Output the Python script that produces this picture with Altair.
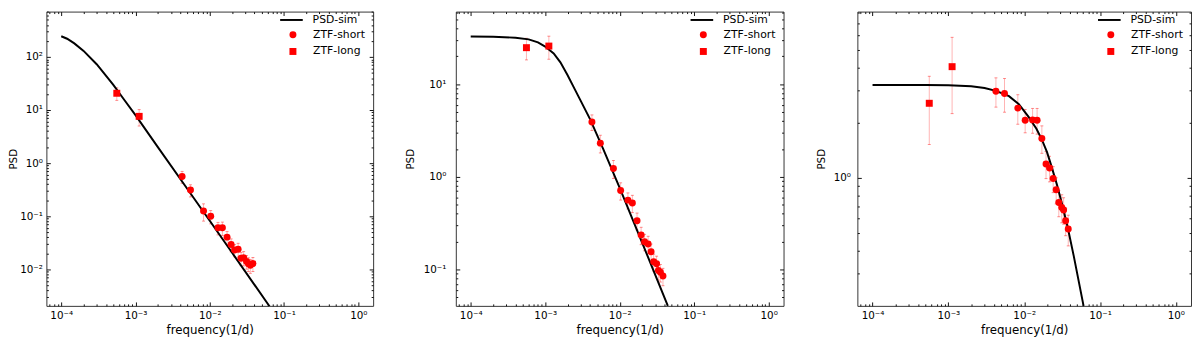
import altair as alt
import pandas as pd

FONT = "DejaVu Sans"

# ---------------- data ----------------
f_short = [4.24e-3, 5.50e-3, 8.24e-3, 1.03e-2, 1.29e-2, 1.48e-2, 1.71e-2, 1.94e-2,
           2.16e-2, 2.41e-2, 2.64e-2, 2.86e-2, 3.13e-2, 3.31e-2, 3.52e-2, 3.81e-2]
f_long = [5.6e-4, 1.12e-3]

# panel 1
p1_short = [0.558, 0.311, 0.126, 0.0998, 0.0605, 0.0605, 0.0404, 0.0294,
            0.0232, 0.0239, 0.0162, 0.0166, 0.0141, 0.0128, 0.0119, 0.0129]
p1_short_err = [0.14, 0.08, 0.045, 0.028, 0.016, 0.017, 0.011, 0.008,
                0.006, 0.007, 0.0045, 0.005, 0.004, 0.0037, 0.0035, 0.0038]
p1_long = [20.7, 7.6]
p1_long_err = [5.5, 2.6]
p1_curve_f = [1e-4, 1.2e-4, 1.5e-4, 2e-4, 3e-4, 5e-4, 7e-4, 1e-3, 2e-3, 5e-3, 1e-2, 2e-2, 6.4e-2]
p1_curve_p = [245, 220, 180, 130, 73, 30, 15.8, 8.0, 2.0, 0.325, 0.082, 0.0205, 0.0020]

# panel 2
p2_short = [3.91, 2.31, 1.23, 0.711, 0.560, 0.521, 0.336, 0.235,
            0.199, 0.188, 0.155, 0.121, 0.115, 0.0977, 0.0931, 0.0847]
p2_short_err = [0.75, 0.5, 0.27, 0.15, 0.11, 0.11, 0.07, 0.05,
                0.04, 0.04, 0.033, 0.025, 0.024, 0.021, 0.02, 0.018]
p2_long = [24.8, 25.8]
p2_long_err = [6.5, 7.2]
p2_curve_f = [1e-4, 2e-4, 4e-4, 6e-4, 8e-4, 1e-3, 1.3e-3, 1.6e-3, 2e-3, 2.5e-3, 3e-3,
              4e-3, 6e-3, 1e-2, 2e-2, 4.43e-2]
p2_curve_p = [32.7, 32.5, 31.8, 30.5, 28.3, 25.5, 21.5, 17.2, 12.5, 8.8, 6.6,
              4.2, 2.0, 0.76, 0.195, 0.0404]

# panel 3
p3_short = [2.97, 2.88, 2.40, 2.06, 2.07, 2.06, 1.64, 1.19,
            1.13, 0.99, 0.86, 0.733, 0.688, 0.668, 0.583, 0.525]
p3_short_err = [0.54, 0.60, 0.44, 0.30, 0.32, 0.33, 0.28, 0.20,
                0.18, 0.16, 0.14, 0.12, 0.12, 0.11, 0.10, 0.10]
p3_long = [2.55, 4.04]
p3_long_err = [1.03, 1.8]
p3_curve_f = [1e-4, 5e-4, 1e-3, 2e-3, 3e-3, 4.24e-3, 6.3e-3, 8.5e-3, 1.143e-2, 1.45e-2,
              1.706e-2, 2e-2, 2.297e-2, 2.7e-2, 3.1e-2, 3.77e-2, 4.5e-2, 6.07e-2]
p3_curve_p = [3.21, 3.21, 3.20, 3.16, 3.09, 2.98, 2.79, 2.52, 2.15, 1.85,
              1.62, 1.38, 1.15, 0.92, 0.74, 0.53, 0.375, 0.2]

series_names = ["PSD-sim", "ZTF-short", "ZTF-long"]
x_title = "frequency(1/d)"
y_title = "PSD"

XDOM = [10 ** -4.2, 10 ** 0.2]

# ---------------- helpers ----------------
def log_ticks(lo, hi):
    vals = []
    for e in range(-6, 4):
        for m in range(1, 10):
            v = m * 10.0 ** e
            if lo * 1.0001 < v < hi * 0.9999:
                vals.append(v)
    return vals

MAJOR_TEST = "abs(log(datum.value)/LN10 - round(log(datum.value)/LN10)) < 0.001"
LABEL_EXPR = (MAJOR_TEST + " ? '10' + replace(replace(replace(replace(replace(replace("
              "'' + round(log(datum.value)/LN10), '-', '⁻'), '0', '⁰'), '1', '¹'), '2', '²'), "
              "'3', '³'), '4', '⁴') : ''")
LABEL_SIZE = {"condition": {"test": MAJOR_TEST, "value": 10.5}, "value": 0}


def panel(curve_f, curve_p, s_p, s_e, l_p, l_e, ydom, W, H, lab_pad_y, title_pad_y):
    curve = pd.DataFrame({"f": curve_f, "p": curve_p, "series": series_names[0]})
    pts = pd.DataFrame({
        "f": f_short + f_long,
        "p": s_p + l_p,
        "lo": [p - e for p, e in zip(s_p + l_p, s_e + l_e)],
        "hi": [p + e for p, e in zip(s_p + l_p, s_e + l_e)],
        "series": [series_names[1]] * len(s_p) + [series_names[2]] * len(l_p),
    })
    caps = pd.concat([
        pts[["f", "lo"]].rename(columns={"lo": "v"}),
        pts[["f", "hi"]].rename(columns={"hi": "v"}),
    ])

    xaxis = alt.Axis(
        values=log_ticks(*XDOM), labelExpr=LABEL_EXPR, labelOverlap=False,
        labelFontSize=LABEL_SIZE,
        ticks=False, domain=False, grid=True, gridColor="#111", gridOpacity=1, gridWidth=1,
        gridDash={"condition": {"test": MAJOR_TEST, "value": [4, H - 8, 4, 3000]},
                  "value": [2, H - 4, 2, 3000]},
        labelPadding=5, labelFont=FONT, labelColor="black",
        title=x_title, titleFont=FONT, titleFontSize=12, titleFontWeight="normal",
        titleColor="black", titlePadding=4,
    )
    yaxis = alt.Axis(
        values=log_ticks(*ydom), labelExpr=LABEL_EXPR, labelOverlap=False,
        labelFontSize=LABEL_SIZE,
        ticks=False, domain=False, grid=True, gridColor="#111", gridOpacity=1, gridWidth=1,
        gridDash={"condition": {"test": MAJOR_TEST, "value": [4, W - 8, 4, 3000]},
                  "value": [2, W - 4, 2, 3000]},
        labelPadding=lab_pad_y, labelFont=FONT, labelColor="black",
        title=y_title, titleFont=FONT, titleFontSize=10.5, titleFontWeight="normal",
        titleColor="black", titlePadding=title_pad_y,
    )
    xs = alt.Scale(type="log", domain=XDOM)
    ys = alt.Scale(type="log", domain=ydom)

    bars = alt.Chart(pts).mark_rule(color="red", opacity=0.3, strokeWidth=1).encode(
        x=alt.X("f:Q", scale=xs, axis=xaxis),
        y=alt.Y("lo:Q", scale=ys, axis=yaxis),
        y2="hi:Q",
    )
    capm = alt.Chart(caps).mark_tick(color="red", opacity=0.45, orient="horizontal",
                                      size=3, thickness=1).encode(
        x=alt.X("f:Q", scale=xs, axis=xaxis),
        y=alt.Y("v:Q", scale=ys, axis=yaxis),
    )
    line = alt.Chart(curve).mark_line(strokeWidth=2, clip=True).encode(
        x=alt.X("f:Q", scale=xs, axis=xaxis),
        y=alt.Y("p:Q", scale=ys, axis=yaxis),
        color=alt.Color("series:N",
                        scale=alt.Scale(domain=[series_names[0]], range=["black"]),
                        legend=alt.Legend(orient="none", legendX=W - 90, legendY=1.5,
                                          title=None, symbolType="M-2,0L2,0", symbolSize=132,
                                          symbolStrokeWidth=2, labelOffset=14.5, padding=0,
                                          labelFont=FONT, labelFontSize=11,
                                          labelColor="black")),
    )
    points = alt.Chart(pts).mark_point(filled=True, opacity=1, color="red", size=50).encode(
        x=alt.X("f:Q", scale=xs, axis=xaxis),
        y=alt.Y("p:Q", scale=ys, axis=yaxis),
        shape=alt.Shape("series:N",
                        scale=alt.Scale(domain=series_names[1:], range=["circle", "square"]),
                        legend=alt.Legend(orient="none", legendX=W - 87, legendY=18,
                                          title=None, symbolSize=50, labelOffset=15,
                                          padding=0, rowPadding=2, labelFont=FONT,
                                          labelFontSize=11, labelColor="black")),
    )
    return alt.layer(bars, capm, line, points).properties(width=W, height=H)


H = 299
c1 = panel(p1_curve_f, p1_curve_p, p1_short, p1_short_err, p1_long, p1_long_err,
           [0.00205, 714], 332, H, 4, 1)
c2 = panel(p2_curve_f, p2_curve_p, p2_short, p2_short_err, p2_long, p2_long_err,
           [0.0404, 60.8], 333, H, 10, 8)
c3 = panel(p3_curve_f, p3_curve_p, p3_short, p3_short_err, p3_long, p3_long_err,
           [0.2, 8.07], 339, H, 7, 7)

chart = alt.hconcat(c1, c2, c3, spacing=31).resolve_scale(
    x="independent", y="independent", color="independent", shape="independent"
).resolve_legend(color="independent", shape="independent").properties(
    padding={"left": 0, "top": 0, "right": 0, "bottom": 0}, background="white"
).configure_view(stroke="#333", strokeWidth=1)

chart.save("out.html", embed_options={"renderer": "svg", "actions": False})
